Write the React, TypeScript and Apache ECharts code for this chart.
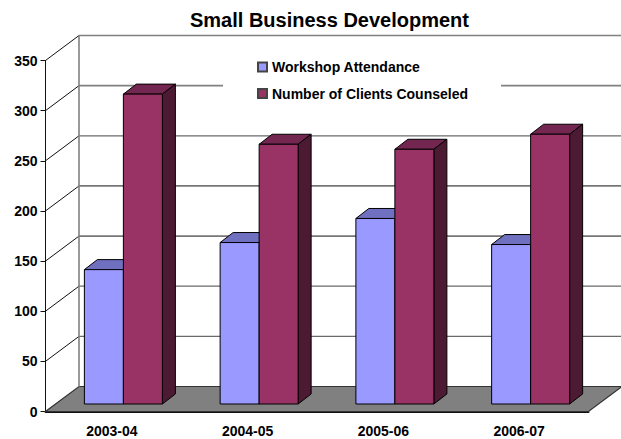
import React, { useEffect, useRef } from "react";
import * as echarts from "echarts";

const title = "Small Business Development";
const categories = ["2003-04", "2004-05", "2005-06", "2006-07"];
const workshopName = "Workshop Attendance";
const clientsName = "Number of Clients Counseled";
const workshopAttendance = [134, 161, 185, 159];
const clientsCounseled = [309, 259, 254, 269];
const wallTicks = [0, 50, 100, 150, 200, 250, 300, 350];

// Depth of the floor and of each bar, in pixels
const FLOOR_DX = 33.5;
const FLOOR_DY = -25;
const BAR_DX = 13;
const BAR_DY = -10;
const BAR_INSET_X = 10;
const BAR_INSET_Y = -7.5;
const BAR_W = 39;

const wallLine = (v: number) =>
  v >= 300
    ? { stroke: "#808080", lineWidth: 1.6 }
    : v === 250 || v <= 100
    ? { stroke: "#6a6a6a", lineWidth: 1.3 }
    : { stroke: "#111", lineWidth: 1 };

const poly = (points: number[][], fill: string, stroke = "#000", lineWidth = 1) => ({
  type: "polygon",
  shape: { points },
  style: { fill, stroke, lineWidth, lineJoin: "miter" },
});

// One 3D bar: front, top and side faces, shifted to the left or right of the band centre
const barRenderer =
  (side: number, front: string, top: string, right: string) => (_p: any, api: any) => {
    const i = api.value(0);
    const [cx, y0] = api.coord([i, 0]);
    const [, y1] = api.coord([i, api.value(1)]);
    const xl = cx + BAR_INSET_X + (side < 0 ? -BAR_W : 0);
    const xr = xl + BAR_W;
    const b = y0 + BAR_INSET_Y;
    const t = y1 + BAR_INSET_Y;
    return {
      type: "group",
      children: [
        poly([[xl, t], [xr, t], [xr + BAR_DX, t + BAR_DY], [xl + BAR_DX, t + BAR_DY]], top),
        poly([[xr, b], [xr, t], [xr + BAR_DX, t + BAR_DY], [xr + BAR_DX, b + BAR_DY]], right),
        poly([[xl, b], [xr, b], [xr, t], [xl, t]], front),
      ],
    };
  };

// Back wall rulings with their oblique returns, and the grey floor under value 0
const wallRenderer = (params: any, api: any) => {
  const v = api.value(0);
  const [, y] = api.coord([0, v]);
  const xa = params.coordSys.x;
  const xb = xa + params.coordSys.width;
  const children: any[] = [];
  if (v === 0) {
    children.push(
      poly(
        [[xa, y], [xb, y], [xb + FLOOR_DX, y + FLOOR_DY], [xa + FLOOR_DX, y + FLOOR_DY]],
        "#808080",
        "#333",
        1.2
      )
    );
  } else {
    children.push({
      type: "line",
      shape: { x1: xa, y1: y, x2: xa + FLOOR_DX, y2: y + FLOOR_DY },
      style: { stroke: "#111", lineWidth: 1 },
    });
    children.push({
      type: "line",
      shape: { x1: xa + FLOOR_DX, y1: y + FLOOR_DY, x2: xb + FLOOR_DX, y2: y + FLOOR_DY },
      style: wallLine(v),
    });
  }
  if (v === 350) {
    const [, y0] = api.coord([0, 0]);
    children.push({
      type: "line",
      shape: { x1: xa + FLOOR_DX, y1: y + FLOOR_DY, x2: xa + FLOOR_DX, y2: y0 + FLOOR_DY },
      style: { stroke: "#808080", lineWidth: 1.6 },
    });
  }
  return { type: "group", children };
};

export default function App() {
  const ref = useRef<HTMLDivElement>(null);
  useEffect(() => {
    const chart = echarts.init(ref.current!, undefined, { renderer: "svg" });
    const font = "'Liberation Sans', Arial, sans-serif";
    chart.setOption({
      animation: false,
      backgroundColor: "#fff",
      title: {
        text: title,
        left: 190,
        top: 10,
        padding: 0,
        textStyle: { fontFamily: font, fontWeight: "bold", fontSize: 20, color: "#000" },
      },
      legend: {
        data: [workshopName, clientsName],
        orient: "vertical",
        left: 223,
        top: 55,
        padding: [5, 33, 5, 34],
        itemGap: 12.5,
        itemWidth: 9,
        itemHeight: 9,
        backgroundColor: "#fff",
        icon: "rect",
        textStyle: { fontFamily: font, fontWeight: "bold", fontSize: 14, color: "#000" },
      },
      grid: { left: 45.5, top: 60.5, width: 543, height: 351 },
      xAxis: {
        type: "category",
        data: categories,
        axisLine: { lineStyle: { color: "#111", width: 2 } },
        axisTick: { length: 6, lineStyle: { color: "#111", width: 1 } },
        axisLabel: {
          margin: 12,
          padding: [0, 3, 0, 0],
          fontFamily: font,
          fontWeight: "bold",
          fontSize: 14,
          color: "#000",
        },
      },
      yAxis: {
        type: "value",
        min: 0,
        max: 350,
        interval: 50,
        splitLine: { show: false },
        axisLine: { show: true, lineStyle: { color: "#111", width: 1 } },
        axisTick: { show: true, length: 5, lineStyle: { color: "#111", width: 1 } },
        axisLabel: {
          margin: 8,
          fontFamily: font,
          fontWeight: "bold",
          fontSize: 14,
          color: "#000",
        },
      },
      series: [
        {
          type: "custom",
          name: "wall",
          silent: true,
          data: wallTicks.map((v) => [v]),
          encode: { y: 0 },
          renderItem: wallRenderer,
          z: 1,
        },
        {
          type: "custom",
          name: workshopName,
          data: workshopAttendance.map((v, i) => [i, v]),
          encode: { x: 0, y: 1 },
          itemStyle: { color: "#9999ff", borderColor: "#444", borderWidth: 1 },
          renderItem: barRenderer(-1, "#9999ff", "#7070c0", "#4a4a80"),
          z: 3,
        },
        {
          type: "custom",
          name: clientsName,
          data: clientsCounseled.map((v, i) => [i, v]),
          encode: { x: 0, y: 1 },
          itemStyle: { color: "#993366", borderColor: "#444", borderWidth: 1 },
          renderItem: barRenderer(1, "#993366", "#732650", "#4d1a33"),
          z: 4,
        },
      ],
    });
    return () => chart.dispose();
  }, []);
  return (
    <div
      ref={ref}
      style={{ position: "absolute", left: 0, top: 0, width: 621, height: 439 }}
    />
  );
}
